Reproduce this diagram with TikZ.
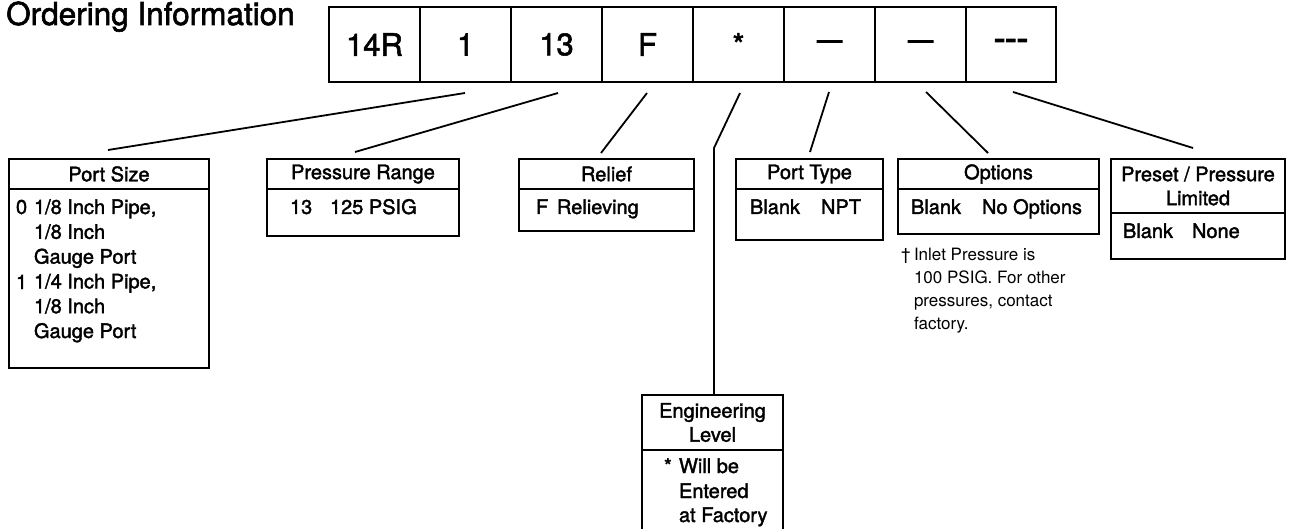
\documentclass[tikz,border=0pt]{standalone}
\usepackage{fontspec}
\setmainfont{TeX Gyre Heros}
\newfontfamily\hvm[FakeBold=1.8]{TeX Gyre Heros}
\newfontfamily\hvd[FakeBold=4]{TeX Gyre Heros}
\usetikzlibrary{calc}
\begin{document}
\begin{tikzpicture}[x=1pt,y=-1pt]
\tikzset{
  cell/.style={draw, line width=2pt, outer sep=0pt, inner sep=0pt,
    minimum width=91pt, minimum height=75pt, font=\hvm\fontsize{31}{36}\selectfont},
  dashcell/.style={cell, font=\hvd\fontsize{25}{28}\selectfont},
  hbox/.style={draw, line width=2pt, outer sep=0pt, inner sep=0pt, anchor=north west,
    align=center, font=\hvm\fontsize{20}{24}\selectfont},
  txt/.style={inner sep=0pt, outer sep=0pt, anchor=base west, font=\hvm\fontsize{20}{24}\selectfont},
  note/.style={inner sep=0pt, outer sep=0pt, anchor=base west, font=\fontsize{17}{23}\selectfont},
  link/.style={line width=1.8pt},
}
\clip (0,0) rectangle (1289,529);
\useasboundingbox (0,0) rectangle (1289,529);

% title
\node[anchor=base west, inner sep=0pt, font=\hvm\fontsize{31.5}{36}\selectfont] (title) at (6,25) {Ordering Information};

% part number code row
\node[cell] (c1) at (374.5,44.5) {14R};
\node[cell] (c2) at (465.5,44.5) {1};
\node[cell] (c3) at (556.5,44.5) {13};
\node[cell] (c4) at (647.5,44.5) {F};
\node[cell] (c5) at (738.5,44.5) {*};
\node[dashcell] (c6) at (829.5,44.5) {—};
\node[dashcell] (c7) at (920.5,44.5) {—};
\node[dashcell, minimum width=90pt, font=\hvd\fontsize{34}{36}\selectfont] (c8) at (1011,44.5) {-{}-{}-};

% Port Size
\node[hbox, minimum width=200pt, minimum height=30pt] (psh) at (9,159) {Port Size};
\node[hbox, minimum width=200pt, minimum height=179pt] (psb) at (9,189) {};
\node[txt] (ps0) at (16,214) {0};
\node[txt] (ps1) at (16,289) {1};
\foreach \t [count=\i] in {1/8 Inch Pipe{,},1/8 Inch,Gauge Port,1/4 Inch Pipe{,},1/8 Inch,Gauge Port}
  \node[txt] (psl\i) at (34,{214+24.8*(\i-1)}) {\t};

% Pressure Range
\node[hbox, minimum width=192pt, minimum height=30pt] (prh) at (267,159) {Pressure Range};
\node[hbox, minimum width=192pt, minimum height=47pt] (prb) at (267,189) {};
\node[txt] (pr1) at (290,214) {13};
\node[txt] (pr2) at (330,214) {125 PSIG};

% Relief
\node[hbox, minimum width=175pt, minimum height=30pt] (rlh) at (519,159) {Relief};
\node[hbox, minimum width=175pt, minimum height=42pt] (rlb) at (519,189) {};
\node[txt] (rl1) at (536,214) {F};
\node[txt] (rl2) at (557,214) {Relieving};

% Engineering Level
\node[hbox, minimum width=141pt, minimum height=55pt] (elh) at (642,395) {Engineering\\Level};
\node[hbox, minimum width=141pt, minimum height=95pt] (elb) at (642,450) {};
\node[txt] (el0) at (664,473) {*};
\node[txt] (el1) at (679,473) {Will be};
\node[txt] (el2) at (679,498) {Entered};
\node[txt] (el3) at (679,522) {at Factory};

% Port Type
\node[hbox, minimum width=147pt, minimum height=30pt] (pth) at (736,159) {Port Type};
\node[hbox, minimum width=147pt, minimum height=51pt] (ptb) at (736,189) {};
\node[txt] (pt1) at (750,214) {Blank};
\node[txt] (pt2) at (821,214) {NPT};

% Options
\node[hbox, minimum width=201pt, minimum height=30pt] (oph) at (898,159) {Options};
\node[hbox, minimum width=201pt, minimum height=45pt] (opb) at (898,189) {};
\node[txt] (op1) at (911,214) {Blank};
\node[txt] (op2) at (982,214) {No Options};
\node[note] (fn0) at (901,260) {†};
\node[note] (fn1) at (914,260) {Inlet Pressure is};
\node[note] (fn2) at (914,283) {100 PSIG. For other};
\node[note] (fn3) at (914,306) {pressures, contact};
\node[note] (fn4) at (914,329) {factory.};

% Preset / Pressure Limited
\node[hbox, minimum width=174pt, minimum height=54pt] (pph) at (1111,159) {Preset / Pressure\\Limited};
\node[hbox, minimum width=174pt, minimum height=46pt] (ppb) at (1111,213) {};
\node[txt] (pp1) at (1123,238) {Blank};
\node[txt] (pp2) at (1192,238) {None};

% leader lines from code positions to their tables
\draw[link] ($(c2.south)+(-0.5,11)$) -- ($(psh.north)+(-1,-9)$);
\draw[link] ($(c3.south)+(1.5,11)$) -- ($(prh.north)+(-8,-7)$);
\draw[link] ($(c4.south)+(-0.5,11)$) -- ($(rlh.north)+(-5.5,-6)$);
\coordinate (bend) at (714,148);
\draw[link] ($(c5.south)+(1.5,11)$) -- (bend) -- (bend |- elh.north);
\draw[link] ($(c6.south)+(-0.5,10)$) -- ($(pth.north)+(0.5,-7)$);
\draw[link] ($(c7.south)+(5.5,10)$) -- ($(oph.north)+(-10.5,-6)$);
\draw[link] ($(c8.south)+(2,10)$) -- ($(pph.north)+(-5,-11)$);
\end{tikzpicture}
\end{document}
